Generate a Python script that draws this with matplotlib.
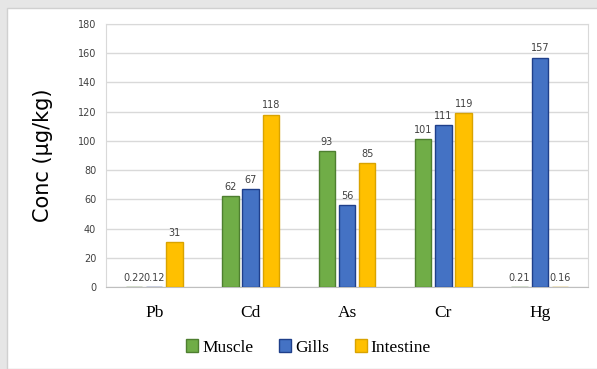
import matplotlib.pyplot as plt
import numpy as np
from matplotlib.patches import Rectangle

# datos
metals = ['Pb', 'Cd', 'As', 'Cr', 'Hg']
muscle = [0.22, 62, 93, 101, 0.21]
gills = [0.12, 67, 56, 111, 157]
intestine = [31, 118, 85, 119, 0.16]
muscle_lbl = ['0.22', '62', '93', '101', '0.21']
gills_lbl = ['0.12', '67', '56', '111', '157']
intestine_lbl = ['31', '118', '85', '119', '0.16']
yticks = [0, 20, 40, 60, 80, 100, 120, 140, 160, 180]

fig = plt.figure(figsize=(5.97, 3.69), dpi=100)
# marco gris de la captura
fig.patches.append(Rectangle((0, 0), 1, 1, transform=fig.transFigure,
                             facecolor='#e6e6e6', edgecolor='none', zorder=-2))
fig.patches.append(Rectangle((7 / 597, 0), 1, 1 - 8 / 369, transform=fig.transFigure,
                             facecolor='white', edgecolor='#d0d0d0', lw=1, zorder=-1))

ax = fig.add_axes([106 / 597, 1 - 287 / 369, 482 / 597, 263 / 369])

x = np.arange(len(metals))
w = 0.17
step = 0.21
series = [
    (muscle, muscle_lbl, '#70AD47', '#4E7F30', 'Muscle'),
    (gills, gills_lbl, '#4472C4', '#1F3F8A', 'Gills'),
    (intestine, intestine_lbl, '#FFC000', '#D9A300', 'Intestine'),
]
for i, (vals, lbls, fc, ec, name) in enumerate(series):
    bars = ax.bar(x + (i - 1) * step, vals, w, color=fc, edgecolor=ec, lw=1, label=name, zorder=3)
    ax.bar_label(bars, labels=lbls, padding=3, fontsize=7, color='#404040')

ax.set_xlim(-0.5, 4.5)
ax.set_ylim(0, 180)
ax.set_yticks(yticks)
ax.tick_params(axis='y', labelsize=7, length=0, colors='#404040', pad=7)
ax.set_xticks(x)
ax.set_xticklabels(metals, family='Liberation Serif', fontsize=12.5)
ax.tick_params(axis='x', length=0, pad=13)
ax.grid(axis='y', color='#d9d9d9', lw=1, zorder=0)
for s in ax.spines.values():
    s.set_color('#d9d9d9')
ax.spines['bottom'].set_color('#bfbfbf')

ax.set_ylabel('Conc (µg/kg)', fontsize=15, labelpad=18)

leg = ax.legend(loc='center', bbox_to_anchor=(0.42, -0.23), ncol=3, frameon=False,
                prop={'family': 'Liberation Serif', 'size': 12.5},
                handlelength=0.7, handleheight=0.7, handletextpad=0.2, columnspacing=1.5)

fig.savefig('out.png', dpi=100)
